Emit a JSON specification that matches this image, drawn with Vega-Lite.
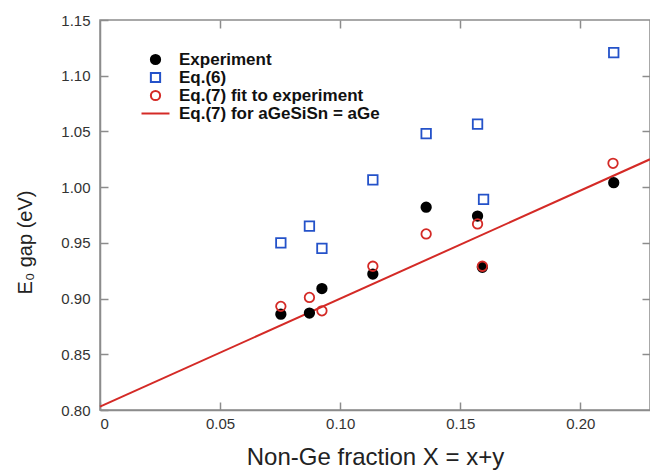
{
  "$schema": "https://vega.github.io/schema/vega-lite/v6.json",
  "width": 550,
  "height": 390,
  "autosize": {"type": "none"},
  "padding": {"left": 100, "top": 20, "right": 0, "bottom": 63},
  "background": "white",
  "config": {
    "font": "Liberation Sans",
    "view": {"stroke": "#8c8c8c", "strokeWidth": 1.5},
    "axis": {
      "grid": false,
      "domainColor": "#8c8c8c",
      "domainWidth": 1.5,
      "tickColor": "#8c8c8c",
      "tickWidth": 1.5,
      "tickSize": -8,
      "labelFont": "Liberation Sans",
      "labelFontSize": 15,
      "labelColor": "#333333",
      "titleFont": "Liberation Sans",
      "titleFontWeight": "normal",
      "titleColor": "#222222"
    }
  },
  "datasets": {
    "points": [
      {"X": 0.0753, "E": 0.886, "series": "Experiment"},
      {"X": 0.0872, "E": 0.887, "series": "Experiment"},
      {"X": 0.0924, "E": 0.909, "series": "Experiment"},
      {"X": 0.1136, "E": 0.922, "series": "Experiment"},
      {"X": 0.1358, "E": 0.982, "series": "Experiment"},
      {"X": 0.1572, "E": 0.974, "series": "Experiment"},
      {"X": 0.1592, "E": 0.928, "series": "Experiment"},
      {"X": 0.2139, "E": 1.004, "series": "Experiment"},
      {"X": 0.0753, "E": 0.950, "series": "Eq.(6)"},
      {"X": 0.0872, "E": 0.965, "series": "Eq.(6)"},
      {"X": 0.0924, "E": 0.945, "series": "Eq.(6)"},
      {"X": 0.1136, "E": 1.0065, "series": "Eq.(6)"},
      {"X": 0.1358, "E": 1.048, "series": "Eq.(6)"},
      {"X": 0.1572, "E": 1.0565, "series": "Eq.(6)"},
      {"X": 0.1597, "E": 0.989, "series": "Eq.(6)"},
      {"X": 0.2139, "E": 1.1207, "series": "Eq.(6)"},
      {"X": 0.0753, "E": 0.893, "series": "Eq.(7) fit to experiment"},
      {"X": 0.0872, "E": 0.901, "series": "Eq.(7) fit to experiment"},
      {"X": 0.0924, "E": 0.889, "series": "Eq.(7) fit to experiment"},
      {"X": 0.1136, "E": 0.929, "series": "Eq.(7) fit to experiment"},
      {"X": 0.1358, "E": 0.958, "series": "Eq.(7) fit to experiment"},
      {"X": 0.1572, "E": 0.967, "series": "Eq.(7) fit to experiment"},
      {"X": 0.1592, "E": 0.929, "series": "Eq.(7) fit to experiment"},
      {"X": 0.2136, "E": 1.0214, "series": "Eq.(7) fit to experiment"}
    ],
    "line": [
      {"X": 0.0, "E": 0.803, "series": "Eq.(7) for aGeSiSn = aGe"},
      {"X": 0.229, "E": 1.025, "series": "Eq.(7) for aGeSiSn = aGe"}
    ]
  },
  "layer": [
    {
      "data": {"name": "line"},
      "mark": {"type": "line", "strokeWidth": 2},
      "encoding": {
        "x": {
          "field": "X", "type": "quantitative",
          "scale": {"domain": [0, 0.229], "nice": false, "zero": false},
          "axis": {
            "orient": "bottom",
            "values": [0, 0.05, 0.1, 0.15, 0.2],
            "labelExpr": "datum.value === 0 ? '0' : format(datum.value, '.2f')",
            "labelPadding": 14,
            "title": "Non-Ge fraction X = x+y",
            "titleFontSize": 24,
            "titlePadding": 14
          }
        },
        "y": {
          "field": "E", "type": "quantitative",
          "scale": {"domain": [0.8, 1.15], "nice": false, "zero": false},
          "axis": {
            "orient": "left",
            "values": [0.8, 0.85, 0.9, 0.95, 1.0, 1.05, 1.1, 1.15],
            "format": ".2f",
            "labelPadding": 18,
            "title": "E₀ gap (eV)",
            "titleFontSize": 20,
            "titleX": -75,
            "titleY": 222,
            "titleBaseline": "middle"
          }
        },
        "stroke": {
          "field": "series", "type": "nominal",
          "scale": {
            "domain": ["Experiment", "Eq.(6)", "Eq.(7) fit to experiment", "Eq.(7) for aGeSiSn = aGe"],
            "range": ["#000000", "#2452c9", "#d42a26", "#d42a26"]
          },
          "legend": {
            "title": null,
            "orient": "none",
            "legendX": 47,
            "legendY": 31,
            "labelFont": "Liberation Sans",
            "labelFontSize": 17,
            "labelFontWeight": "bold",
            "labelColor": "#111111",
            "labelOffset": 15,
            "rowPadding": -1.5,
            "symbolStrokeWidth": 2,
            "symbolSize": 85,
            "labelLimit": 400,
            "encode": {
              "symbols": {
                "update": {
                  "size": {"signal": "datum.value === 'Eq.(7) for aGeSiSn = aGe' ? 784 : 85"}
                }
              }
            }
          }
        }
      }
    },
    {
      "data": {"name": "points"},
      "mark": {"type": "point", "size": 90, "strokeWidth": 1.8, "opacity": 1},
      "encoding": {
        "x": {
          "field": "X", "type": "quantitative",
          "axis": {"orient": "top", "values": [0.05, 0.1, 0.15, 0.2], "labels": false, "title": null, "domain": false}
        },
        "y": {
          "field": "E", "type": "quantitative",
          "axis": {"orient": "right", "values": [0.85, 0.9, 0.95, 1.0, 1.05, 1.1], "labels": false, "title": null, "domain": false}
        },
        "stroke": {"field": "series", "type": "nominal"},
        "shape": {
          "field": "series", "type": "nominal",
          "scale": {
            "domain": ["Experiment", "Eq.(6)", "Eq.(7) fit to experiment", "Eq.(7) for aGeSiSn = aGe"],
            "range": ["circle", "square", "circle", "stroke"]
          }
        },
        "fill": {
          "field": "series", "type": "nominal",
          "scale": {
            "domain": ["Experiment", "Eq.(6)", "Eq.(7) fit to experiment", "Eq.(7) for aGeSiSn = aGe"],
            "range": ["#000000", "transparent", "transparent", "transparent"]
          }
        }
      }
    }
  ],
  "resolve": {"axis": {"x": "independent", "y": "independent"}}
}
